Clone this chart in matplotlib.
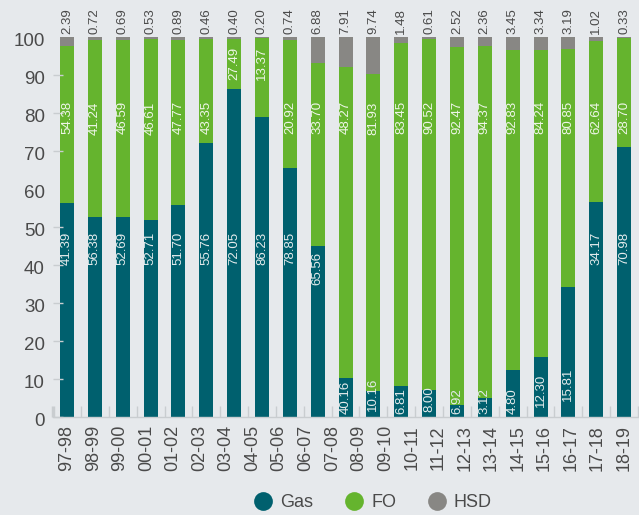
import numpy as np
import matplotlib
matplotlib.use("Agg")
import matplotlib.pyplot as plt
from matplotlib.lines import Line2D
from matplotlib.transforms import ScaledTranslation

plt.rcParams['font.family'] = ['Liberation Sans', 'DejaVu Sans']

# ---------------- data ----------------
years = ['97-98', '98-99', '99-00', '00-01', '01-02', '02-03', '03-04', '04-05',
         '05-06', '06-07', '07-08', '08-09', '09-10', '10-11', '11-12', '12-13',
         '13-14', '14-15', '15-16', '16-17', '17-18', '18-19']

gas = [56.38, 52.69, 52.70, 51.70, 55.76, 72.05, 86.23, 78.88, 65.56, 44.85, 10.16,
       6.81, 8.00, 6.92, 3.11, 4.81, 12.31, 15.81, 34.17, 56.60, 70.98]
fo = [41.24, 46.59, 46.61, 47.77, 43.35, 27.49, 13.37, 20.92, 33.70, 48.27, 81.93,
      83.45, 90.52, 92.47, 94.37, 92.83, 84.24, 80.85, 62.64, 42.38, 28.70]
hsd = [2.39, 0.72, 0.69, 0.53, 0.89, 0.46, 0.40, 0.20, 0.74, 6.88, 7.91,
       9.74, 1.48, 0.61, 2.52, 2.36, 3.45, 3.34, 3.19, 1.02, 0.33]

gas_labels = ['41.39', '56.38', '52.69', '52.71', '51.70', '55.76', '72.05', '86.23',
              '78.85', '65.56', '40.16', '10.16', '6.81', '8.00', '6.92', '3.12',
              '4.80', '12.30', '15.81', '34.17', '70.98']
fo_labels = ['54.38', '41.24', '46.59', '46.61', '47.77', '43.35', '27.49', '13.37',
             '20.92', '33.70', '48.27', '81.93', '83.45', '90.52', '92.47', '94.37',
             '92.83', '84.24', '80.85', '62.64', '28.70']

series_names = ['Gas', 'FO', 'HSD']
# --------------------------------------

BG = '#e6e9ec'
C_GAS = '#00606e'
C_FO = '#65b42e'
C_HSD = '#888784'
TXT = '#4a4a4a'

W, H, DPI = 6.39, 5.15, 100
fig = plt.figure(figsize=(W, H), dpi=DPI, facecolor=BG)
ax = fig.add_axes([53.1 / 639, (515 - 416.7) / 515, (638 - 53.1) / 639, (416.7 - 37) / 515])
ax.set_facecolor(BG)

gas_a = np.array(gas)
fo_a = np.array(fo)
hsd_a = np.array(hsd)
x = np.arange(len(gas))
bw = 0.503

ax.bar(x, gas_a, bw, color=C_GAS, linewidth=0)
ax.bar(x, fo_a, bw, bottom=gas_a, color=C_FO, linewidth=0)
ax.bar(x, hsd_a, bw, bottom=gas_a + fo_a, color=C_HSD, linewidth=0)

ax.set_xlim(-0.5, len(gas) - 0.5)
ax.set_ylim(0, 100)

# label geometry helpers (data units per pixel)
px_per_unit = (416.7 - 37) / 100.0
lab_fs = 9.5
em_px = lab_fs * DPI / 72.0


def half_len(s):
    w = 0
    for ch in s:
        w += 0.278 if ch == '.' else 0.556
    return w * em_px / px_per_unit / 2.0


# gas labels
for i, s in enumerate(gas_labels):
    h = half_len(s)
    top = gas_a[i]
    c = 44.3
    if c + h > top - 0.5:
        if float(s) >= 20:
            c = top - h - 1.5
        else:
            c = float(s) / 2 + 0.7
    c = max(c, h + 0.8)
    ax.text(x[i], c, s, rotation=90, ha='center', va='center', fontsize=lab_fs,
            color='#e4ebec')

# FO labels
for i, s in enumerate(fo_labels):
    h = half_len(s)
    lo = gas_a[i]
    hi = gas_a[i] + fo_a[i]
    c = 78.7
    if c - h < lo or c + h > hi:
        c = hi - h - 2.3
    ax.text(x[i], c, s, rotation=90, ha='center', va='center', fontsize=lab_fs,
            color='#eef6e8')

# HSD labels above bars
for i, v in enumerate(hsd):
    ax.annotate(f'{v:.2f}', xy=(x[i], 100), xytext=(0, 2.5), textcoords='offset points',
                rotation=90, ha='center', va='bottom', fontsize=lab_fs, color=TXT,
                annotation_clip=False)

# axes styling
for side in ['left', 'right', 'top']:
    ax.spines[side].set_visible(False)
ax.spines['bottom'].set_color('#c9cdd0')
ax.spines['bottom'].set_linewidth(1.0)

ax.set_yticks(np.arange(0, 101, 10))
ax.tick_params(axis='y', direction='in', length=7, color='#c9cdd0', width=1,
               labelsize=13.5, labelcolor=TXT, pad=6)
for t, v in zip(ax.yaxis.get_major_ticks(), np.arange(0, 101, 10)):
    if v in (60, 100):
        t.tick1line.set_visible(False)
off = ScaledTranslation(0, -3 / 72.0 * 72 / DPI, fig.dpi_scale_trans)
for lab in ax.get_yticklabels():
    lab.set_transform(lab.get_transform() + off)

xt = np.linspace(0, len(gas) - 1, len(years))
ax.set_xticks(xt)
ax.set_xticklabels(years, rotation=90, ha='center', va='top')
ax.tick_params(axis='x', which='major', length=0, labelsize=13, labelcolor=TXT, pad=6)
ax.set_xticks(np.arange(-0.5, len(gas)), minor=True)
ax.tick_params(axis='x', which='minor', direction='in', length=8, color='#c9cdd0', width=1)
mt = ax.xaxis.get_minor_ticks()
mt[0].tick1line.set_color('white')
mt[0].tick1line.set_markeredgewidth(2.5)

# legend
handles = [Line2D([], [], marker='o', linestyle='none', markersize=13.5,
                  markerfacecolor=c, markeredgewidth=0) for c in (C_GAS, C_FO, C_HSD)]
leg = fig.legend(handles, series_names, loc='center', bbox_to_anchor=(373 / 639, (515 - 502.7) / 515),
                 ncol=3, frameon=False, fontsize=13, handlelength=1.0, handletextpad=0.45,
                 columnspacing=1.75, borderaxespad=0, borderpad=0)
for t in leg.get_texts():
    t.set_color(TXT)

fig.savefig('out.png', dpi=DPI, facecolor=BG)
